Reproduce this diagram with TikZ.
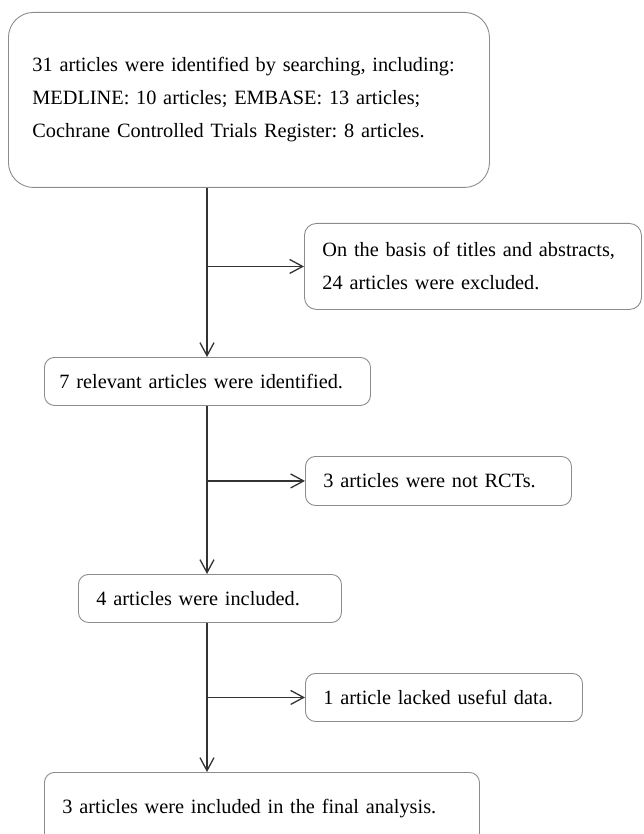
\documentclass[tikz,border=0pt]{standalone}
\usepackage{fontspec}
\setmainfont{Liberation Serif}
\usetikzlibrary{arrows.meta}
\definecolor{boxGray}{rgb}{0.55, 0.55, 0.55}
\definecolor{lineDark}{rgb}{0.2, 0.2, 0.2}
\frenchspacing

\tikzset{
    stagebox/.style = {draw = boxGray, line width = 0.9pt, rounded corners = 10pt,
        anchor = north west, align = left, inner xsep = 18pt, inner ysep = 0pt,
        font = \fontsize{20.3}{33}\selectfont},
    flowarrow/.style = {draw = lineDark, line width = 1.3pt,
        -{Straight Barb[length = 13pt, width = 14pt]}}
}

\begin{document}
\begin{tikzpicture}[x = 1pt, y = -1pt]
        \clip (0,0) rectangle (643,834);

        % search box
        \node[stagebox, text width = 433pt, minimum height = 175pt, inner xsep = 24pt, rounded corners = 25pt] (search) at (8,12)
            {31 articles were identified by searching, including:\\
             MEDLINE: 10 articles; EMBASE: 13 articles;\\
             Cochrane Controlled Trials Register: 8 articles.};

        % main column
        \node[stagebox, text width = 296pt, minimum height = 48pt, inner xsep = 15pt] (relevant) at (44,357) {7 relevant articles were identified.};
        \node[stagebox, text width = 227pt, minimum height = 48pt] (included) at (78,574) {4 articles were included.};
        \node[stagebox, text width = 399pt, minimum height = 72pt] (final) at (44,772) {3 articles were included in the final analysis.};

        % excluded boxes
        \node[stagebox, text width = 301pt, minimum height = 86pt, rounded corners = 12pt] (titles) at (304,223)
            {On the basis of titles and abstracts,\\ 24 articles were excluded.};
        \node[stagebox, text width = 230pt, minimum height = 49pt] (notrct) at (305,456) {3 articles were not RCTs.};
        \node[stagebox, text width = 241pt, minimum height = 48pt] (nodata) at (305,673) {1 article lacked useful data.};

        % spine
        \coordinate (spine) at (207,0);
        \draw[flowarrow] (search.south -| spine) -- (relevant.north -| spine);
        \draw[flowarrow] (relevant.south -| spine) -- (included.north -| spine);
        \draw[flowarrow] (included.south -| spine) -- (final.north -| spine);

        % branches
        \draw[flowarrow] (spine |- titles.west) -- (titles.west);
        \draw[flowarrow] (spine |- notrct.west) -- (notrct.west);
        \draw[flowarrow] (spine |- nodata.west) -- (nodata.west);

    \end{tikzpicture}
\end{document}
